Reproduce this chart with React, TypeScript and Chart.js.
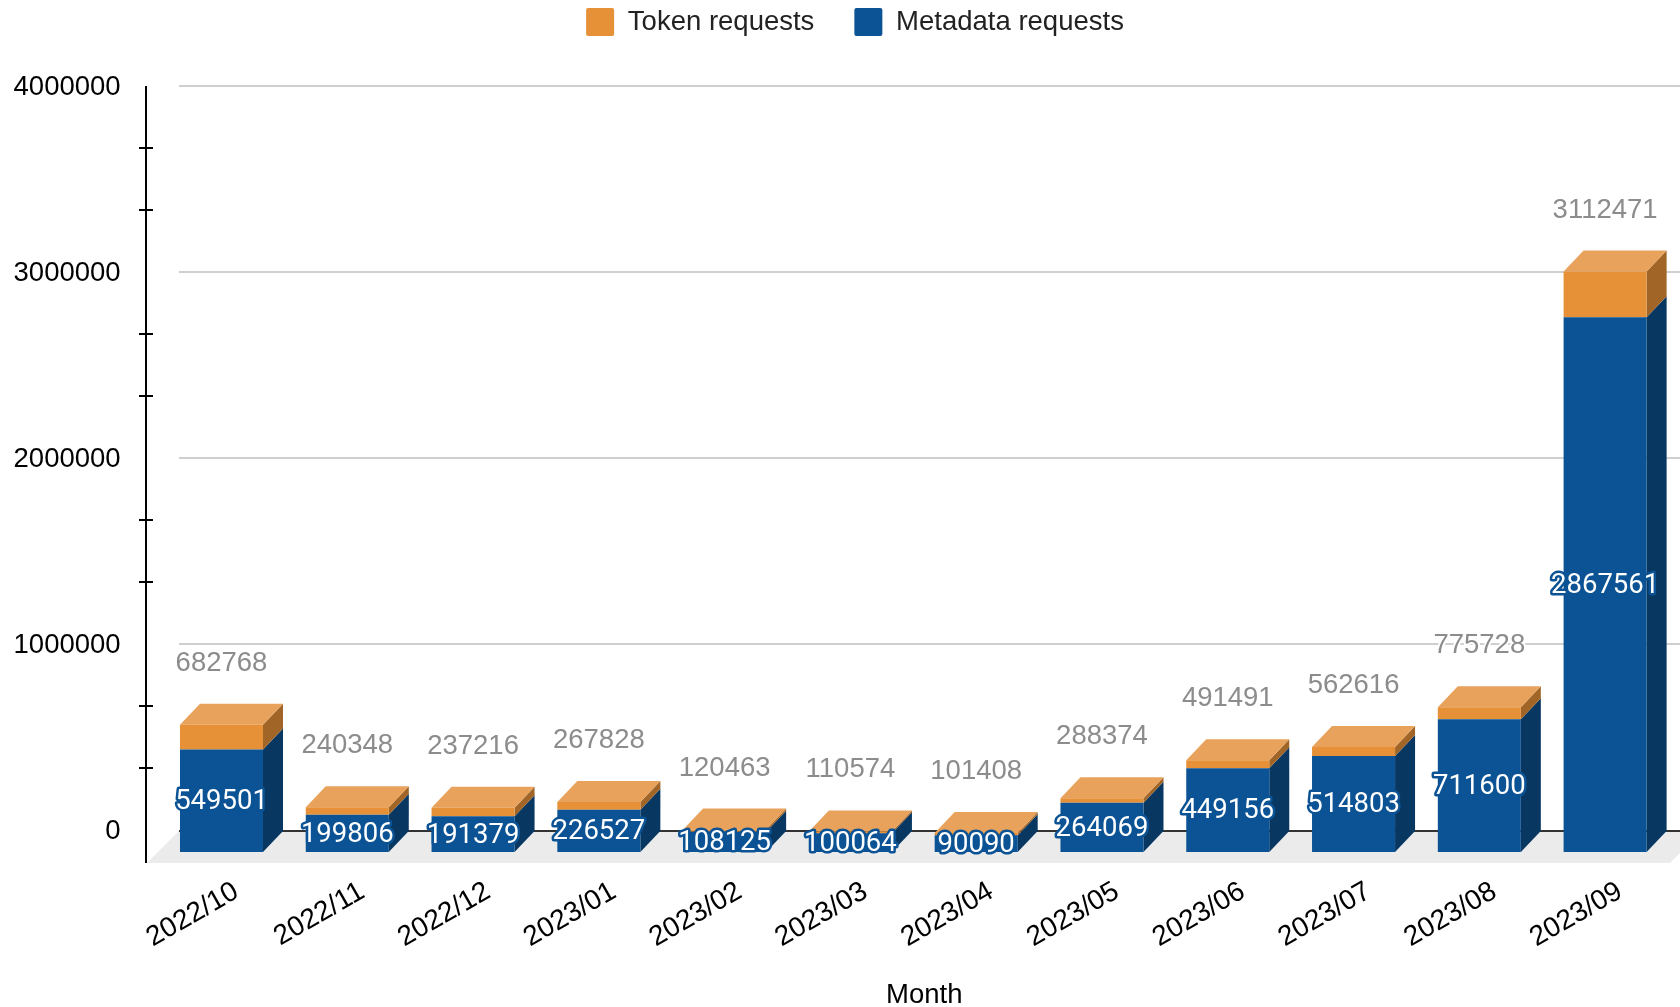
import React, { useEffect, useRef } from "react";
import { Chart, registerables } from "chart.js";

Chart.register(...registerables);

const months = ["2022/10","2022/11","2022/12","2023/01","2023/02","2023/03","2023/04","2023/05","2023/06","2023/07","2023/08","2023/09"];
const metadataRequests = [549501,199806,191379,226527,108125,100064,90090,264069,449156,514803,711600,2867561];
const tokenRequests = [133267,40542,45837,41301,12338,10510,11318,24305,42335,47813,64128,244910];
const totals = [682768,240348,237216,267828,120463,110574,101408,288374,491491,562616,775728,3112471];
const majorTicks = [0,1000000,2000000,3000000,4000000];
const minorTicks = [333333,666667,1333333,1666667,2333333,2666667,3333333,3666667];

const ORANGE = "#e69138";
const BLUE = "#0b5394";
const DEPTH_X = 20;
const DEPTH_Y = 21;
const SANS = '"Liberation Sans", Arial, sans-serif';

const poly = (ctx: CanvasRenderingContext2D, pts: number[][], fill: string) => {
  ctx.beginPath();
  pts.forEach(([x, y], i) => (i ? ctx.lineTo(x, y) : ctx.moveTo(x, y)));
  ctx.closePath();
  ctx.fillStyle = fill;
  ctx.fill();
};

const scene = {
  id: "scene",
  beforeLayout(chart: any) {
    const l = chart.legend;
    if (l && !l.__wrapped) {
      const fit = l.fit;
      l.fit = function () { fit.call(this); this.height = 86; };
      l.__wrapped = true;
    }
  },
  afterLayout(chart: any) {
    const l = chart.legend;
    l.left += 21; l.right += 21; l.top -= 32; l.bottom -= 32;
    chart.scales.x.right += 22;
  },
  beforeDatasetsDraw(chart: any) {
    const ctx: CanvasRenderingContext2D = chart.ctx;
    const y = chart.scales.y;
    const zero = y.getPixelForValue(0);
    const bottom = chart.chartArea.bottom;
    ctx.save();
    poly(ctx, [[147, bottom], [147 + (bottom - zero), zero], [1703, zero], [1670, bottom]], "#ebebec");
    ctx.fillStyle = "#cfcfcf";
    majorTicks.slice(1).forEach((v) => ctx.fillRect(179, Math.round(y.getPixelForValue(v)) - 1, 1501, 2));
    ctx.fillStyle = "#333333";
    ctx.fillRect(179, Math.round(zero), 1501, 2);
    ctx.fillStyle = "#000000";
    ctx.fillRect(145, 86, 2, bottom - 86);
    minorTicks.forEach((v) => ctx.fillRect(139, Math.round(y.getPixelForValue(v)) - 1, 14, 2));

    const metaM = chart.getDatasetMeta(0).data;
    const metaT = chart.getDatasetMeta(1).data;
    metaM.forEach((bar: any, i: number) => {
      const r = bar.x + bar.width / 2;
      const l = bar.x - bar.width / 2;
      const t = metaT[i];
      poly(ctx, [[r, bar.base], [r + DEPTH_X, bar.base - DEPTH_Y], [r + DEPTH_X, bar.y - DEPTH_Y], [r, bar.y]], "#083862");
      poly(ctx, [[r, bar.y], [r + DEPTH_X, bar.y - DEPTH_Y], [r + DEPTH_X, t.y - DEPTH_Y], [r, t.y]], "#a16527");
      poly(ctx, [[l, t.y], [l + DEPTH_X, t.y - DEPTH_Y], [r + DEPTH_X, t.y - DEPTH_Y], [r, t.y]], "#e8a25b");
    });
    ctx.restore();
  },
  afterDatasetsDraw(chart: any) {
    const ctx: CanvasRenderingContext2D = chart.ctx;
    const metaM = chart.getDatasetMeta(0).data;
    const metaT = chart.getDatasetMeta(1).data;
    ctx.save();
    ctx.textAlign = "center";
    ctx.textBaseline = "middle";
    ctx.lineJoin = "round";
    metaM.forEach((bar: any, i: number) => {
      ctx.font = "27.5px Roboto, sans-serif";
      ctx.lineWidth = 5;
      ctx.strokeStyle = BLUE;
      ctx.fillStyle = "#ffffff";
      const my = (bar.y + bar.base) / 2 + 1.5;
      ctx.strokeText(String(metadataRequests[i]), bar.x, my);
      ctx.fillText(String(metadataRequests[i]), bar.x, my);

      ctx.font = `27.5px ${SANS}`;
      ctx.lineWidth = 4;
      ctx.strokeStyle = "#ffffff";
      ctx.fillStyle = "#8c8c8c";
      const ty = metaT[i].y - 61.5;
      ctx.strokeText(String(totals[i]), bar.x, ty);
      ctx.fillText(String(totals[i]), bar.x, ty);
    });
    ctx.restore();
  },
};

export default function App() {
  const ref = useRef<HTMLCanvasElement>(null);
  useEffect(() => {
    const chart = new Chart(ref.current!, {
      type: "bar",
      plugins: [scene],
      data: {
        labels: months,
        datasets: [
          { label: "Metadata requests", data: metadataRequests, backgroundColor: BLUE, yAxisID: "y2", categoryPercentage: 1, barPercentage: 0.66 },
          { label: "Token requests", data: tokenRequests, backgroundColor: ORANGE, yAxisID: "y2", categoryPercentage: 1, barPercentage: 0.66 },
        ],
      } as any,
      options: {
        responsive: false,
        animation: false,
        events: [],
        layout: { padding: { left: 0, right: 12, top: 0, bottom: 0 }, autoPadding: false },
        plugins: {
          tooltip: { enabled: false },
          legend: {
            position: "top",
            labels: {
              boxWidth: 28,
              boxHeight: 28,
              padding: 40,
              color: "#222222",
              useBorderRadius: true,
              borderRadius: 2,
              font: { family: SANS, size: 27.5 },
              sort: (a: any, b: any) => b.datasetIndex - a.datasetIndex,
            },
          },
        },
        scales: {
          x: {
            stacked: true,
            grid: { display: false },
            border: { display: false },
            afterFit: (s: any) => { s.height = 144; },
            ticks: {
              minRotation: 30,
              maxRotation: 30,
              autoSkip: false,
              padding: 4,
              labelOffset: 15,
              color: "#000000",
              font: { family: SANS, size: 28 },
            },
            title: {
              display: true,
              text: "Month",
              color: "#000000",
              font: { family: SANS, size: 27.5 },
              padding: { top: 0, bottom: -5 },
            },
          },
          y: {
            min: -177419,
            max: 4000000,
            position: "left",
            grid: { display: false },
            border: { display: false },
            afterFit: (s: any) => { s.width = 158.6; },
            afterBuildTicks: (s: any) => { s.ticks = majorTicks.map((value) => ({ value })); },
            ticks: {
              padding: 30,
              labelOffset: 1.5,
              color: "#000000",
              font: { family: SANS, size: 27.5 },
              callback: (v: any) => String(v),
            },
          },
          y2: { display: false, stacked: true, min: -58981, max: 4107239 },
        },
      } as any,
    });
    return () => chart.destroy();
  }, []);
  return (
    <canvas
      ref={ref}
      width={1680}
      height={1007}
      style={{ position: "fixed", left: 0, top: 0, display: "block", background: "#fff" }}
    />
  );
}
